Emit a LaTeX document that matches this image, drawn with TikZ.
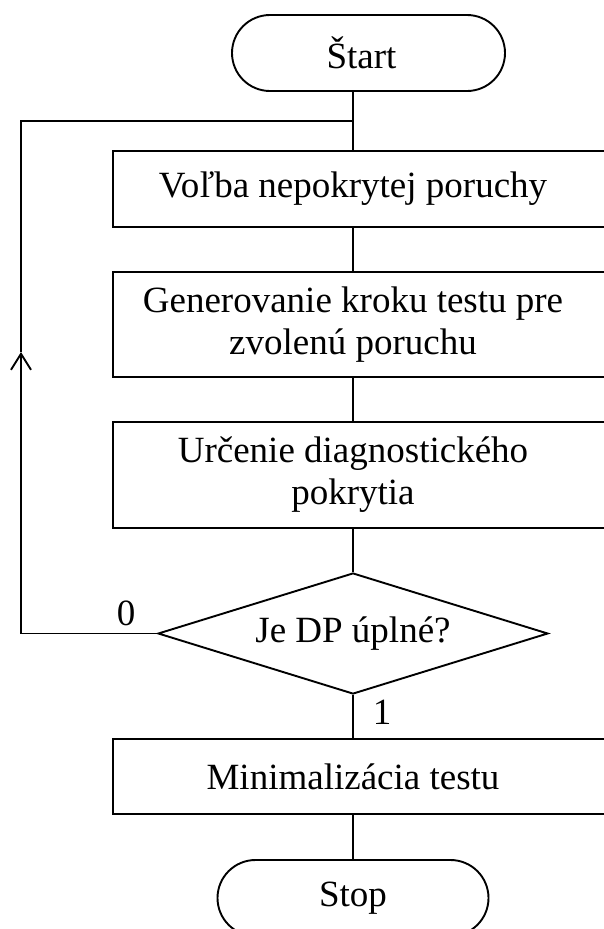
\documentclass[tikz,border=0pt]{standalone}
\usepackage{fontspec}
\setmainfont{Liberation Serif}
\usetikzlibrary{arrows.meta,shapes.geometric}
\begin{document}
\begin{tikzpicture}[x=1pt,y=1pt,line width=1.9pt,
  font=\fontsize{37}{42}\selectfont,
  box/.style={draw,rectangle,minimum height=#1,minimum width=538pt,anchor=west,inner sep=0pt},
  lbl/.style={align=center,inner sep=0pt},
  term/.style={draw,rectangle,rounded corners=38pt,minimum width=#1,minimum height=76pt,inner sep=0pt},
  decision/.style={draw,diamond,minimum width=390pt,minimum height=121pt,inner sep=0pt,shape aspect=3.2}]
\useasboundingbox (0,0) rectangle (603,-929);
% terminators
\node[term=273pt] (start) at (368.5,-53) {\hspace*{-14pt}Štart};
\node[term=271pt] (stop) at (353,-898) {Stop};
% process boxes
\node[box=76pt] (b1) at (112,-189) {};
\node[lbl] (t1) at (353,-189) {Voľba nepokrytej poruchy};
\node[box=105pt] (b2) at (112,-324.5) {};
\node[lbl] (t2) at (353,-324.5) {Generovanie kroku testu pre\\zvolenú poruchu};
\node[box=106pt] (b3) at (112,-475) {};
\node[lbl] (t3) at (353,-475) {Určenie diagnostického\\pokrytia};
\node[decision] (d) at (353,-633.5) {Je DP úplné?};
\node[box=75pt] (b4) at (112,-776.5) {};
\node[lbl] (t4) at (353,-776.5) {Minimalizácia testu};
% labels
\node (l0) at (126,-613) {0};
\node (l1) at (382,-712) {1};
% coordinates of the loop
\coordinate (c1) at (21,-633.5);
\coordinate (am) at (21,-352);
\coordinate (c2) at (21,-121);
\coordinate (j) at (353,-121);
% connectors
\draw (start.south -| t1) -- (b1.north -| t1);
\draw (b1.south -| t1) -- (b2.north -| t1);
\draw (b2.south -| t1) -- (b3.north -| t1);
\draw (b3.south -| t1) -- (d.north);
\draw (d.south) -- (b4.north -| t1);
\draw (b4.south -| t1) -- (stop.north);
\draw[-{Straight Barb[length=16pt,width=20pt]}] (d.west) -- (c1) -- (am);
\draw (am) -- (c2) -- (j);
\end{tikzpicture}
\end{document}
